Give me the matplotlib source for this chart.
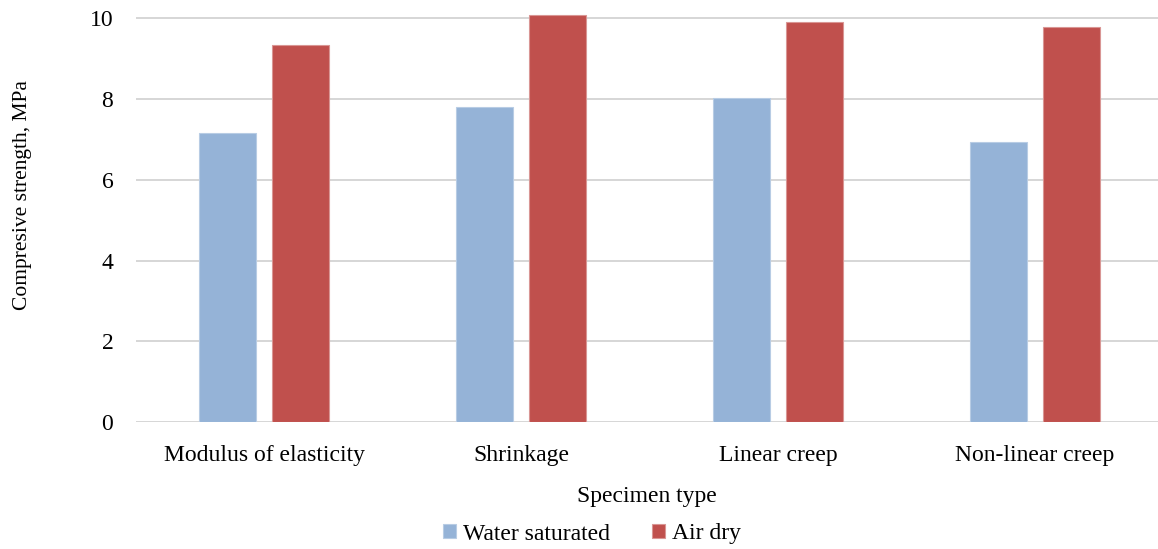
import matplotlib
matplotlib.use("Agg")
import matplotlib.pyplot as plt
import numpy as np

categories = ["Modulus of elasticity", "Shrinkage", "Linear creep", "Non-linear creep"]
water_saturated = [7.15, 7.81, 8.01, 6.93]
air_dry = [9.33, 10.07, 9.91, 9.78]
series_names = ["Water saturated", "Air dry"]
yticks = [0, 2, 4, 6, 8, 10]

plt.rcParams['font.family'] = ['Liberation Serif', 'DejaVu Serif']

fig = plt.figure(figsize=(11.58, 5.49), dpi=100)
ax = fig.add_axes([135.5/1158, 1-422.3/549, 1-135.5/1158, (422.3-10)/549])

x = np.arange(len(categories))
w = 0.222
off = 0.142
ax.bar(x - off, water_saturated, w, color="#95B3D7", edgecolor="#B8CCE4", linewidth=0.8,
       label=series_names[0], zorder=3)
ax.bar(x + off, air_dry, w, color="#C0504D", edgecolor="#D99694", linewidth=0.8,
       label=series_names[1], zorder=3)

ax.set_xlim(-0.5, -0.5 + (1158-135.5)/257)
ax.set_ylim(0, 10 + 8/40.43)
ax.set_yticks(yticks)
ax.set_yticklabels([str(v) for v in yticks])
ax.set_xticks(x)
ax.set_xticklabels(categories)
ax.yaxis.grid(True, color="#D0D0D0", linewidth=1.2, zorder=0)
ax.set_axisbelow(True)
for s in ax.spines.values():
    s.set_visible(False)
FS = 17
ax.tick_params(axis='both', length=0, labelsize=FS, colors="#000000")
ax.tick_params(axis='y', pad=16)
ax.tick_params(axis='x', pad=16)

ax.set_xlabel("Specimen type", fontsize=FS, labelpad=15)
fig.text(23/1158, 1-195/549, "Compresive strength, MPa", rotation=90,
         ha="center", va="center", fontsize=15.5)

ax.legend(loc="center", bbox_to_anchor=(592/1158, 1-534/549), bbox_transform=fig.transFigure,
          ncol=2, frameon=False, fontsize=FS, handlelength=0.55, handleheight=0.55,
          handletextpad=0.3, columnspacing=1.8, borderpad=0, borderaxespad=0)

fig.savefig("out.png", dpi=100)
